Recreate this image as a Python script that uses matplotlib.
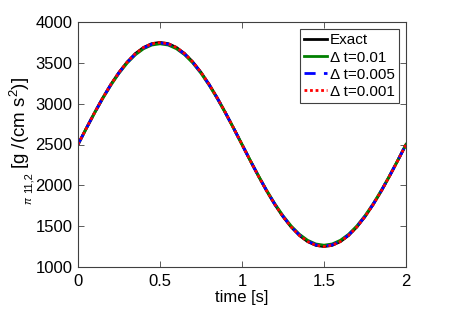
import matplotlib
matplotlib.use("Agg")
import matplotlib.pyplot as plt

plt.rcParams['font.family'] = ['Liberation Sans', 'DejaVu Sans']
plt.rcParams['mathtext.fontset'] = 'custom'
plt.rcParams['mathtext.rm'] = 'Liberation Sans'
plt.rcParams['mathtext.it'] = 'Liberation Sans:italic'

time = [0.00, 0.05, 0.10, 0.15, 0.20, 0.25, 0.30, 0.35, 0.40, 0.45, 0.50,
        0.55, 0.60, 0.65, 0.70, 0.75, 0.80, 0.85, 0.90, 0.95, 1.00,
        1.05, 1.10, 1.15, 1.20, 1.25, 1.30, 1.35, 1.40, 1.45, 1.50,
        1.55, 1.60, 1.65, 1.70, 1.75, 1.80, 1.85, 1.90, 1.95, 2.00]

exact = [2500, 2696, 2886, 3068, 3235, 3384, 3511, 3614, 3689, 3735, 3750,
         3735, 3689, 3614, 3511, 3384, 3235, 3068, 2886, 2696, 2500,
         2304, 2114, 1932, 1765, 1616, 1489, 1386, 1311, 1265, 1250,
         1265, 1311, 1386, 1489, 1616, 1765, 1932, 2114, 2304, 2500]

dt_001 = [2500, 2693, 2881, 3060, 3225, 3372, 3498, 3599, 3673, 3718, 3733,
          3718, 3673, 3599, 3498, 3372, 3225, 3060, 2881, 2693, 2500,
          2307, 2119, 1940, 1775, 1628, 1502, 1401, 1327, 1282, 1267,
          1282, 1327, 1401, 1502, 1628, 1775, 1940, 2119, 2307, 2500]

dt_0005 = [2500, 2695, 2884, 3065, 3231, 3379, 3506, 3608, 3683, 3729, 3744,
           3729, 3683, 3608, 3506, 3379, 3231, 3065, 2884, 2695, 2500,
           2305, 2116, 1935, 1769, 1621, 1494, 1392, 1317, 1271, 1256,
           1271, 1317, 1392, 1494, 1621, 1769, 1935, 2116, 2305, 2500]

dt_0001 = [2500, 2696, 2886, 3067, 3234, 3383, 3510, 3613, 3688, 3734, 3749,
           3734, 3688, 3613, 3510, 3383, 3234, 3067, 2886, 2696, 2500,
           2304, 2114, 1933, 1766, 1617, 1490, 1387, 1312, 1266, 1251,
           1266, 1312, 1387, 1490, 1617, 1766, 1933, 2114, 2304, 2500]

labels = ['Exact', 'Δ t=0.01', 'Δ t=0.005', 'Δ t=0.001']
xticks = [0, 0.5, 1, 1.5, 2]
xticklabels = ['0', '0.5', '1', '1.5', '2']
yticks = [1000, 1500, 2000, 2500, 3000, 3500, 4000]

W, H = 449, 310
fig = plt.figure(figsize=(W / 100, H / 100), dpi=100)
ax = fig.add_axes([78 / W, 1 - 267 / H, (406 - 78) / W, (267 - 22) / H])

ax.plot(time, exact, color='black', lw=2.0, label=labels[0])
ax.plot(time, dt_001, color='#008000', lw=2.0, label=labels[1])
ax.plot(time, dt_0005, color='blue', lw=2.0, ls=(0, (4, 3)), label=labels[2])
ax.plot(time, dt_0001, color='red', lw=2.0, ls=(0, (1, 1)), label=labels[3])

ax.set_xlim(0, 2)
ax.set_ylim(1000, 4000)
ax.set_xticks(xticks)
ax.set_xticklabels(xticklabels)
ax.set_yticks(yticks)
ax.tick_params(direction='in', top=True, right=True, labelsize=12,
               length=4, width=0.6, color='#404040')
ax.tick_params(axis='x', pad=5)
ax.tick_params(axis='y', pad=4)
for s in ax.spines.values():
    s.set_linewidth(0.8)
    s.set_color('#404040')

ax.set_xlabel('time [s]', fontsize=12, labelpad=1)

def px(x, y):
    return x / W, 1 - y / H

# y-label built from pieces (rotated 90 degrees, reading bottom to top)
fig.text(*px(32, 205), r'$\pi$', fontsize=7.5, rotation=90, rotation_mode='anchor',
         ha='left', va='baseline', family='DejaVu Serif')
fig.text(*px(32, 193), '11,2', fontsize=8, rotation=90, rotation_mode='anchor',
         ha='left', va='baseline')
fig.text(*px(26, 169), r'[g /(cm s$^2$)]', fontsize=13.5, rotation=90,
         rotation_mode='anchor', ha='left', va='baseline')

leg = ax.legend(loc='upper right', fontsize=11, frameon=True, fancybox=False,
                handlelength=1.5, handletextpad=0.15, borderpad=0.3,
                labelspacing=0.2, borderaxespad=0.45, framealpha=1)
leg.get_frame().set_edgecolor('#404040')
leg.get_frame().set_linewidth(0.8)

fig.savefig('out.png', dpi=100)
